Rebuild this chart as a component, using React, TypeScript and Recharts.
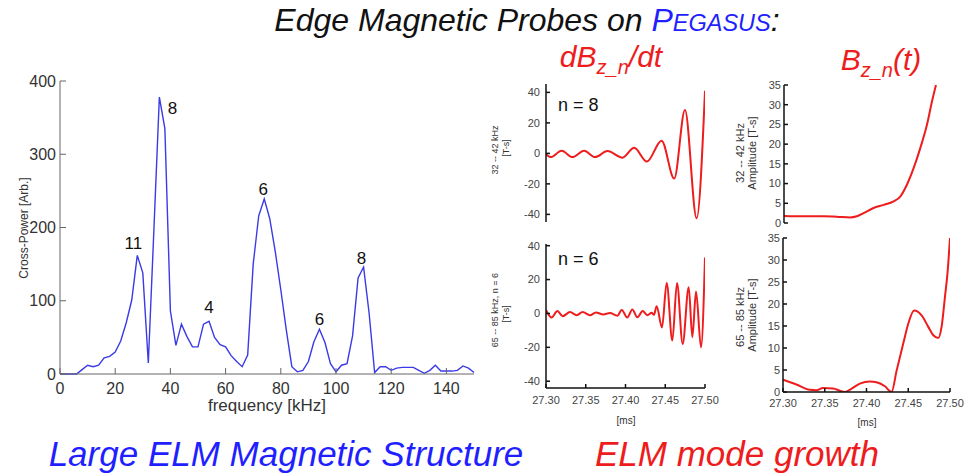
import React from 'react';
import { LineChart, Line, XAxis, YAxis, ReferenceDot } from 'recharts';

const FONT = '"Liberation Sans", Arial, Helvetica, sans-serif';

// ---------- Main cross-power spectrum ----------
const freqKHz = [
  0, 2, 4, 6, 8, 10, 12, 14, 16, 18, 20, 22, 24, 26, 28, 30, 32, 34, 36, 38,
  40, 42, 44, 46, 48, 50, 52, 54, 56, 58, 60, 62, 64, 66, 68, 70, 72, 74, 76, 78,
  80, 82, 84, 86, 88, 90, 92, 94, 96, 98, 100, 102, 104, 106, 108, 110, 112, 114, 116, 118,
  120, 122, 124, 126, 128, 130, 132, 134, 136, 138, 140, 142, 144, 146, 148, 150,
];
const crossPower = [
  0, 0, 0, 0, 6, 12, 10, 12, 22, 24, 30, 45, 70, 101, 162, 138, 15, 195, 378, 335,
  86, 39, 68, 51, 37, 37, 68, 72, 50, 40, 37, 25, 17, 10, 26, 150, 216, 239, 212, 167,
  115, 60, 10, 3, 5, 17, 44, 61, 43, 14, 3, 12, 14, 52, 131, 146, 83, 2, 10, 10,
  5, 8, 9, 9, 9, 5, 1, 5, 12, 4, 4, 4, 5, 11, 8, 2,
];
const freqTicks = [0, 20, 40, 60, 80, 100, 120, 140];
const powerTicks = [0, 100, 200, 300, 400];

const peakFreq = [28, 36, 54, 74, 94, 110];
const peakPower = [162, 378, 72, 239, 61, 146];
const peakMode = ['11', '8', '4', '6', '6', '8'];

// ---------- dB/dt panels ----------
const timeTicks = [27.3, 27.35, 27.4, 27.45, 27.5];
const dbTicks = [-40, -20, 0, 20, 40];
const ampTicks = [0, 5, 10, 15, 20, 25, 30, 35];

const n8Time = [27.3, 27.3059, 27.3197, 27.3332, 27.3479, 27.3618, 27.3773, 27.3962, 27.4109, 27.4269, 27.4454, 27.4613, 27.4748, 27.4895, 27.5];
const n8Value = [-0.5, -2.4, 1.7, -2.4, 1.7, -2.4, 1.5, -2.8, 3.7, -5.4, 8.3, -16.5, 28.5, -42.6, 41];

const n6Time = [
  27.3, 27.3071, 27.3143, 27.321, 27.3302, 27.3386, 27.3461, 27.3553, 27.3629, 27.3721,
  27.3805, 27.3897, 27.3952, 27.4023, 27.4086, 27.4149, 27.4216, 27.4275, 27.4329, 27.4358,
  27.4392, 27.4459, 27.4518, 27.4589, 27.4648, 27.4719, 27.4795, 27.4841, 27.4887, 27.495, 27.5,
];
const n6Value = [
  2.0, -2.4, 1.4, -1.6, 0.8, -1.0, 0.8, -1.0, 0.6, -0.6,
  0.2, -1.4, 2.0, -2.4, 2.4, -2.2, 1.4, -1.0, 0.4, -0.8,
  4.3, -8.3, 18, -16, 18, -18, 15.5, -14, 13, -20, 33,
];

// ---------- Amplitude panels ----------
const ampN8Time = [27.3, 27.3232, 27.3472, 27.3632, 27.3792, 27.3872, 27.3952, 27.4072, 27.4192, 27.4312, 27.4392, 27.4472, 27.4552, 27.4632, 27.4712, 27.4772, 27.482];
const ampN8Value = [1.8, 1.7, 1.7, 1.6, 1.4, 1.7, 2.5, 3.8, 4.6, 5.5, 6.7, 9.7, 13.9, 19.0, 24.9, 30.8, 35.0];

const ampN6Time = [
  27.3, 27.316, 27.332, 27.34, 27.348, 27.36, 27.368, 27.374, 27.38, 27.392,
  27.404, 27.412, 27.422, 27.43, 27.436, 27.444, 27.45, 27.457, 27.466, 27.474,
  27.48, 27.486, 27.49, 27.494, 27.497, 27.5,
];
const ampN6Value = [
  2.8, 1.7, 0.5, 0.4, 0.9, 0.8, 0.3, 0.0, 0.5, 1.9,
  2.4, 2.2, 1.3, 0.0, 4.8, 11.0, 15.5, 18.5, 17.4, 14.8,
  12.9, 12.3, 14.9, 21.7, 27.0, 35.0,
];

const BLUE_LINE = '#3a3ae6';
const RED = '#ee1c1c';
const TEXT_BLUE = '#1f1fff';

const mainData = freqKHz.map((f, i) => ({ f, p: crossPower[i] }));
const toSeries = (ts: number[], vs: number[]) => ts.map((t, i) => ({ t, v: vs[i] }));

const labelOffsets = [
  [-4, -12],
  [13, 11],
  [0, -14],
  [-1, -9],
  [0, -10],
  [-2, -9],
];

function MainChart() {
  const axisStroke = { stroke: '#666', strokeWidth: 1 };
  const tickStyle = { fill: '#333', fontSize: 16, fontFamily: FONT };
  return (
    <div style={{ position: 'absolute', left: 0, top: 70 }}>
      <LineChart width={490} height={350} data={mainData} margin={{ top: 11, right: 16, bottom: 0, left: 0 }}>
        <XAxis
          xAxisId="b"
          dataKey="f"
          type="number"
          domain={[0, 150]}
          ticks={freqTicks}
          interval={0}
          height={46}
          tickSize={-6}
          tickMargin={15}
          axisLine={axisStroke}
          tickLine={axisStroke}
          tick={tickStyle}
        />
        <XAxis
          xAxisId="t"
          orientation="top"
          dataKey="f"
          type="number"
          domain={[0, 150]}
          ticks={freqTicks}
          interval={0}
          height={0}
          tickSize={-6}
          axisLine={axisStroke}
          tickLine={axisStroke}
          tickFormatter={() => ''}
        />
        <YAxis
          yAxisId="l"
          type="number"
          domain={[0, 400]}
          ticks={powerTicks}
          interval={0}
          width={60}
          tickSize={-6}
          tickMargin={10}
          axisLine={axisStroke}
          tickLine={axisStroke}
          tick={tickStyle}
        />
        <YAxis
          yAxisId="r"
          orientation="right"
          type="number"
          domain={[0, 400]}
          ticks={powerTicks}
          interval={0}
          width={0}
          tickSize={-6}
          axisLine={axisStroke}
          tickLine={axisStroke}
          tickFormatter={() => ''}
        />
        <Line
          xAxisId="b"
          yAxisId="l"
          dataKey="p"
          type="linear"
          stroke={BLUE_LINE}
          strokeWidth={1.4}
          dot={false}
          isAnimationActive={false}
        />
        {peakFreq.map((f, i) => (
          <ReferenceDot
            key={i}
            xAxisId="b"
            yAxisId="l"
            x={f}
            y={peakPower[i]}
            r={0}
            stroke="none"
            fill="none"
            label={(props: any) => {
              const vb = props.viewBox || {};
              const cx = (vb.x ?? 0) + (vb.width ?? 0) / 2 + labelOffsets[i][0];
              const cy = (vb.y ?? 0) + (vb.height ?? 0) / 2 + labelOffsets[i][1];
              return (
                <text
                  x={cx}
                  y={cy}
                  textAnchor="middle"
                  dominantBaseline="central"
                  fontSize={17}
                  fontFamily={FONT}
                  fill="#111"
                >
                  {peakMode[i]}
                </text>
              );
            }}
          />
        ))}
      </LineChart>
    </div>
  );
}

type PanelProps = {
  left: number;
  top: number;
  width: number;
  height: number;
  data: { t: number; v: number }[];
  yDomain: [number, number];
  yTicks: number[];
  yAxisWidth: number;
  margin: { top: number; right: number; bottom: number; left: number };
  showX: boolean;
  xAxisHeight: number;
  xTickMargin: number;
  yTickMargin: number;
};

function Panel(p: PanelProps) {
  const axisStroke = { stroke: '#111', strokeWidth: 1.5 };
  const tickStyle = { fill: '#444', fontSize: 11, fontFamily: FONT };
  return (
    <div style={{ position: 'absolute', left: p.left, top: p.top }}>
      <LineChart width={p.width} height={p.height} data={p.data} margin={p.margin}>
        <XAxis
          xAxisId="b"
          dataKey="t"
          type="number"
          domain={[27.3, 27.5]}
          allowDataOverflow
          ticks={timeTicks}
          interval={0}
          height={p.xAxisHeight}
          tickSize={-4}
          tickMargin={p.xTickMargin}
          axisLine={axisStroke}
          tickLine={axisStroke}
          tick={tickStyle}
          tickFormatter={(v: number) => (p.showX ? Number(v).toFixed(2) : '')}
        />
        <XAxis
          xAxisId="t"
          orientation="top"
          dataKey="t"
          type="number"
          domain={[27.3, 27.5]}
          allowDataOverflow
          ticks={timeTicks}
          interval={0}
          height={0}
          tickSize={-4}
          axisLine={axisStroke}
          tickLine={axisStroke}
          tickFormatter={() => ''}
        />
        <YAxis
          yAxisId="l"
          type="number"
          domain={p.yDomain}
          allowDataOverflow
          ticks={p.yTicks}
          interval={0}
          width={p.yAxisWidth}
          tickSize={-4}
          tickMargin={p.yTickMargin}
          axisLine={axisStroke}
          tickLine={axisStroke}
          tick={tickStyle}
        />
        <YAxis
          yAxisId="r"
          orientation="right"
          type="number"
          domain={p.yDomain}
          allowDataOverflow
          ticks={p.yTicks}
          interval={0}
          width={0}
          tickSize={-4}
          axisLine={axisStroke}
          tickLine={axisStroke}
          tickFormatter={() => ''}
        />
        <Line
          xAxisId="b"
          yAxisId="l"
          dataKey="v"
          type="monotone"
          stroke={RED}
          strokeWidth={2}
          dot={false}
          isAnimationActive={false}
        />
      </LineChart>
    </div>
  );
}

function RotLabel({ x, y, size, children }: { x: number; y: number; size: number; children: React.ReactNode }) {
  return (
    <text
      x={x}
      y={y}
      transform={`rotate(-90 ${x} ${y})`}
      textAnchor="middle"
      dominantBaseline="central"
      fontSize={size}
      fontFamily={FONT}
      fill="#333"
    >
      {children}
    </text>
  );
}

export default function App() {
  return (
    <div
      style={{
        position: 'absolute',
        left: 0,
        top: 0,
        width: 973,
        height: 474,
        background: '#fff',
        overflow: 'hidden',
        fontFamily: FONT,
      }}
    >
      <MainChart />
      <Panel
        left={490}
        top={78}
        width={230}
        height={150}
        data={toSeries(n8Time, n8Value)}
        yDomain={[-45, 45.5]}
        yTicks={dbTicks}
        yAxisWidth={56}
        margin={{ top: 6, right: 15, bottom: 6, left: 0 }}
        showX={false}
        xAxisHeight={0}
        xTickMargin={10}
        yTickMargin={10}
      />
      <Panel
        left={490}
        top={238}
        width={230}
        height={180}
        data={toSeries(n6Time, n6Value)}
        yDomain={[-44, 41]}
        yTicks={dbTicks}
        yAxisWidth={56}
        margin={{ top: 6, right: 15, bottom: 0, left: 0 }}
        showX={true}
        xAxisHeight={30}
        xTickMargin={12}
        yTickMargin={10}
      />
      <Panel
        left={730}
        top={78}
        width={243}
        height={150}
        data={toSeries(ampN8Time, ampN8Value)}
        yDomain={[0, 35]}
        yTicks={ampTicks}
        yAxisWidth={54}
        margin={{ top: 7, right: 22, bottom: 5, left: 0 }}
        showX={false}
        xAxisHeight={0}
        xTickMargin={10}
        yTickMargin={7}
      />
      <Panel
        left={730}
        top={232}
        width={243}
        height={190}
        data={toSeries(ampN6Time, ampN6Value)}
        yDomain={[0, 35]}
        yTicks={ampTicks}
        yAxisWidth={53}
        margin={{ top: 6, right: 23, bottom: 0, left: 0 }}
        showX={true}
        xAxisHeight={30}
        xTickMargin={11}
        yTickMargin={7}
      />
      <svg
        width={973}
        height={474}
        style={{ position: 'absolute', left: 0, top: 0, pointerEvents: 'none' }}
      >
        {/* Title */}
        <text x={527} y={31} textAnchor="middle" fontSize={32} fontStyle="italic" fontFamily={FONT} fill="#111">
          Edge Magnetic Probes on{' '}
          <tspan fill={TEXT_BLUE}>
            P<tspan fontSize={23.5}>EGASUS</tspan>
          </tspan>
          :
        </text>
        {/* Panel column titles */}
        <text x={611} y={67} textAnchor="middle" fontSize={30} fontStyle="italic" fontFamily={FONT} fill={RED}>
          dB
          <tspan fontSize={20} dy={7}>z_n</tspan>
          <tspan dy={-7}>/dt</tspan>
        </text>
        <text x={881} y={70} textAnchor="middle" fontSize={30} fontStyle="italic" fontFamily={FONT} fill={RED}>
          B
          <tspan fontSize={20} dy={7}>z_n</tspan>
          <tspan dy={-7}>(t)</tspan>
        </text>

        {/* Main chart axis labels */}
        <RotLabel x={24} y={228} size={12}>Cross-Power [Arb.]</RotLabel>
        <text x={267} y={411} textAnchor="middle" fontSize={17} fontFamily={FONT} fill="#333">
          frequency [kHz]
        </text>

        {/* Small panel labels */}
        <text x={558} y={111} fontSize={18} fontFamily={FONT} fill="#111">n = 8</text>
        <text x={558} y={265} fontSize={18} fontFamily={FONT} fill="#111">n = 6</text>

        <RotLabel x={495} y={150} size={9}>32 -- 42 kHz</RotLabel>
        <RotLabel x={506} y={148} size={9}>[T-s]</RotLabel>
        <RotLabel x={495} y={310} size={9}>65 -- 85 kHz, n = 6</RotLabel>
        <RotLabel x={506} y={314} size={9}>[T-s]</RotLabel>

        <RotLabel x={740} y={153} size={11}>32 -- 42 kHz</RotLabel>
        <RotLabel x={752} y={153} size={11}>Amplitude [T-s]</RotLabel>
        <RotLabel x={740} y={317} size={11}>65 -- 85 kHz</RotLabel>
        <RotLabel x={752} y={315} size={11}>Amplitude [T-s]</RotLabel>

        <text x={626} y={424} textAnchor="middle" fontSize={10} fontFamily={FONT} fill="#333">[ms]</text>
        <text x={867} y={426} textAnchor="middle" fontSize={10} fontFamily={FONT} fill="#333">[ms]</text>

        {/* Bottom captions */}
        <text x={286} y={466} textAnchor="middle" fontSize={35} fontStyle="italic" fontFamily={FONT} fill={TEXT_BLUE}>
          Large ELM Magnetic Structure
        </text>
        <text x={737} y={466} textAnchor="middle" fontSize={35} fontStyle="italic" fontFamily={FONT} fill={RED}>
          ELM mode growth
        </text>
      </svg>
    </div>
  );
}
